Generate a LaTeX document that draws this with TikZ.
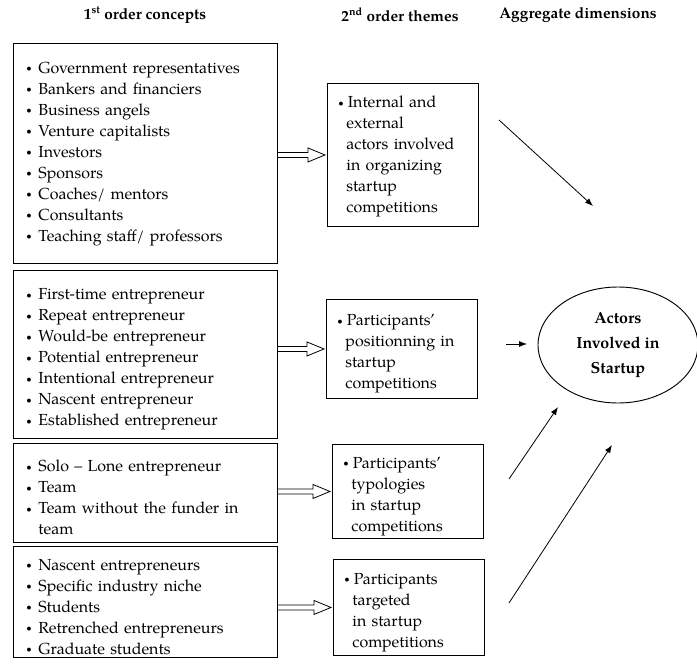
\documentclass[tikz,border=0pt]{standalone}
\usepackage{fontspec}
\setmainfont{texgyrepagella}[Extension=.otf,UprightFont=*-regular,
  BoldFont=*-bold,ItalicFont=*-italic,BoldItalicFont=*-bolditalic]
\usepackage{tikz}
\usetikzlibrary{arrows.meta, shapes.geometric, positioning, calc}

% small bullet and bullet lines with hanging indent
\newcommand{\dotmark}{\raisebox{1.2pt}{\scalebox{0.6}{\textbullet}}}
\newcommand{\bitem}[1]{\par\noindent\hangindent=9pt\hangafter=1%
  \makebox[9pt][l]{\dotmark}#1\par}
\newcommand{\titem}[1]{\par\noindent\hangindent=6pt\hangafter=1%
  \makebox[7pt][l]{\dotmark}#1\par}
% open block arrow from #1 to #2
\newcommand{\blockarrow}[2]{%
  \draw[line width=0.6pt] ($(#1)+(0,2.5)$) -- ($(#2)+(-17,2.5)$)
    -- ($(#2)+(-17,7)$) -- (#2) -- ($(#2)+(-17,-7)$)
    -- ($(#2)+(-17,-2.5)$) -- ($(#1)+(0,-2.5)$);}

\tikzset{
  head/.style={font=\fontsize{11.5}{14}\selectfont\bfseries},
  conceptbox/.style={draw,line width=0.7pt,anchor=north west,
    text width=178.5pt,inner xsep=9.75pt,inner ysep=2pt,align=left,
    font=\fontsize{12}{15.75}\selectfont},
  themebox/.style={conceptbox,text width=96.75pt,inner xsep=8.25pt},
  dimnode/.style={ellipse,draw,line width=0.7pt,minimum width=120pt,
    minimum height=87pt,align=center,
    font=\fontsize{12}{18.75}\selectfont\bfseries},
  link/.style={line width=0.6pt,-{Latex[length=6pt,width=4.5pt]}},
}

\begin{document}
\begin{tikzpicture}[x=0.75pt,y=0.75pt]
    \useasboundingbox (0,0) rectangle (697,-671);
    % Column heads
    \node[head](h1)at(145,-15){1\textsuperscript{st} order concepts};
    \node[head](h2)at(400,-15){2\textsuperscript{nd} order themes};
    \node[head](h3)at(578,-15){Aggregate dimensions};
    % Row 1
    \node[conceptbox,minimum height=165pt](c1)at(13,-43)
         {\bitem{Government representatives}\bitem{Bankers and financiers}
          \bitem{Business angels}\bitem{Venture capitalists}
          \bitem{Investors}\bitem{Sponsors}\bitem{Coaches/ mentors}
          \bitem{Consultants}
          \bitem{Teaching staff/ professors\rule[-10pt]{0pt}{0pt}}};
    \node[themebox,minimum height=107.25pt](t1)at(327,-83)
         {\titem{Internal and\newline external\newline actors involved\newline
          in organizing\newline startup\newline
          competitions\rule[-8pt]{0pt}{0pt}}};
    % Row 2
    \node[conceptbox,minimum height=126pt](c2)at(13,-270)
         {\bitem{First-time entrepreneur}\bitem{Repeat entrepreneur}
          \bitem{Would-be entrepreneur}\bitem{Potential entrepreneur}
          \bitem{Intentional entrepreneur}\bitem{Nascent entrepreneur}
          \bitem{Established entrepreneur}};
    \node[themebox,minimum height=74.25pt](t2)at(326,-299)
         {\titem{Participants’\newline positionning in\newline startup\newline
          competitions}};
    % Row 3
    \node[conceptbox,minimum height=74.25pt](c3)at(13,-443)
         {\bitem{Solo – Lone entrepreneur}\bitem{Team}
          \bitem{Team without the funder in\newline team}};
    \node[themebox,minimum height=70.5pt](t3)at(332,-444)
         {\titem{Participants’\newline typologies\newline in startup\newline
          competitions}};
    % Row 4
    \node[conceptbox,minimum height=79.5pt](c4)at(13,-546)
         {\bitem{Nascent entrepreneurs}\bitem{Specific industry niche}
          \bitem{Students}\bitem{Retrenched entrepreneurs}
          \bitem{Graduate students}};
    \node[themebox,minimum height=72pt](t4)at(333,-559)
         {\titem{Participants\newline targeted\newline in startup\newline
          competitions}};
    % Aggregate dimension
    \node[dimnode](dim)at(618,-345){Actors\\Involved in\\Startup};
    % Block arrows
    \foreach \i in {1,...,4}{
      \coordinate (b\i s) at (t\i.west -| c\i.east);
      \coordinate (b\i e) at ($(t\i.west)+(-2,0)$);
      \blockarrow{b\i s}{b\i e}
    }
    % Links to the dimension
    \coordinate (r1a) at (499,-120); \coordinate (r1b) at (593,-206);
    \coordinate (r2a) at (506,-344); \coordinate (r2b) at (527,-344);
    \coordinate (r3a) at (509,-479); \coordinate (r3b) at (558,-407);
    \coordinate (r4a) at (509,-603); \coordinate (r4b) at (612,-445);
    \foreach \r in {1,...,4}{
      \draw[link] (r\r a) -- (r\r b);
    }
  \end{tikzpicture}
\end{document}
